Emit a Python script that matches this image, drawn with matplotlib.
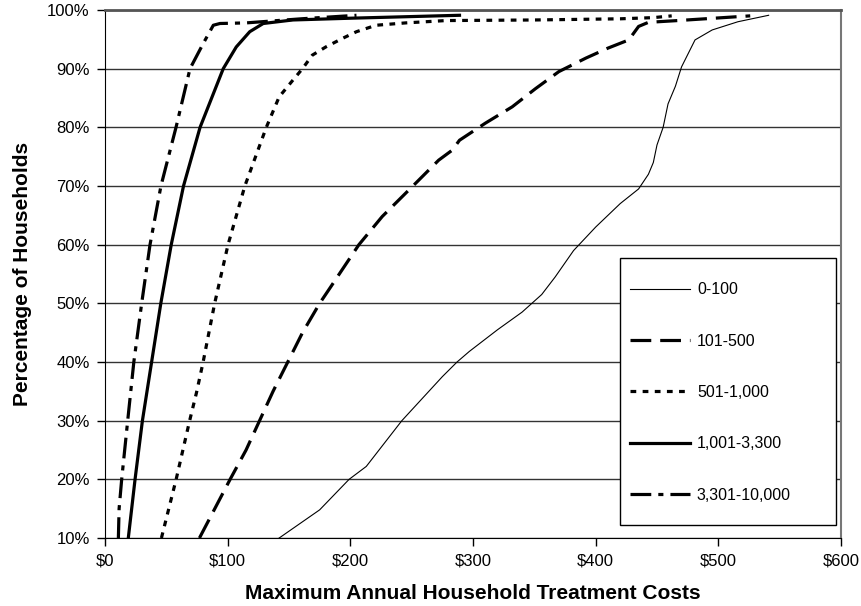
import numpy as np
import matplotlib.pyplot as plt
from matplotlib.patches import Rectangle
from matplotlib.ticker import FuncFormatter

plt.rcParams['font.family'] = ['Liberation Sans', 'DejaVu Sans']

# cost ($) and cumulative percentage of households
x_0_100 = [142, 175, 199, 213, 242, 275, 287, 297, 320, 340, 356, 367, 382, 400,
           420, 435, 443, 447, 450, 455, 459, 465, 470, 481, 495, 516, 541]
y_0_100 = [10, 14.8, 20, 22.2, 30, 37.5, 40, 41.8, 45.5, 48.5, 51.5, 54.5, 59, 63,
           67, 69.5, 72, 74, 77, 80, 84, 87, 90.3, 94.9, 96.6, 98, 99.1]

x_101_500 = [77, 89, 102, 115, 126, 137, 149, 161, 175, 184, 191, 207, 226, 251,
             272, 283, 289, 310, 332, 351, 370, 392, 410, 427, 435, 443, 467, 526]
y_101_500 = [10, 14.8, 20, 25, 30, 35, 40, 45, 50, 52.8, 55, 60, 64.8, 70,
             74.4, 76.1, 77.8, 80.7, 83.5, 86.6, 89.5, 91.8, 93.5, 94.9, 97.2, 97.9, 98.2, 99]

x_501_1000 = [46, 52, 58, 63.5, 69, 74.5, 80, 89.4, 100.3, 114, 131.5, 142, 153, 161,
              169, 180, 194, 205, 221, 245, 278, 350, 420, 447, 462]
y_501_1000 = [10, 15, 20, 25, 30, 34.7, 40, 50, 60, 70, 80, 85.2, 88, 90,
              92.3, 93.7, 95.2, 96.3, 97.4, 97.8, 98.2, 98.3, 98.5, 98.7, 99.0]

x_1001_3300 = [19, 24.5, 30.5, 38, 45.5, 54, 64, 77.5, 96.4, 107, 118, 129, 153, 200, 289]
y_1001_3300 = [10, 20, 30, 40, 50, 60, 70, 80, 90, 93.7, 96.3, 97.7, 98.3, 98.6, 99.1]

x_3301_10000 = [10.9, 11.5, 13.6, 18.5, 23.5, 29.9, 36.7, 45.6, 57.9, 69.3, 80.1, 88.3, 93.7,
                115, 160, 205]
y_3301_10000 = [10, 15, 20, 30, 40, 50, 60, 70, 80, 90, 94.3, 97.4, 97.7,
                97.8, 98.5, 99.1]

W, H = 861, 606
fig = plt.figure(figsize=(W / 100, H / 100), dpi=100)
ax = fig.add_axes([105 / W, 68 / H, 736 / W, 528 / H])

ax.plot(x_0_100, y_0_100, color='black', lw=0.8, label='0-100')
ax.plot(x_101_500, y_101_500, color='black', lw=2.3, dashes=(6.5, 2.8), label='101-500')
ax.plot(x_501_1000, y_501_1000, color='black', lw=2.3, dashes=(1.8, 2.0), label='501-1,000')
ax.plot(x_1001_3300, y_1001_3300, color='black', lw=2.3, label='1,001-3,300')
ax.plot(x_3301_10000, y_3301_10000, color='black', lw=2.3, dashes=(6.5, 2.2, 1.6, 2.2),
        label='3,301-10,000')

ax.set_xlim(0, 600)
ax.set_ylim(10, 100)
ax.set_xticks(np.arange(0, 601, 100))
ax.set_yticks(np.arange(10, 101, 10))
ax.xaxis.set_major_formatter(FuncFormatter(lambda v, p: '$%d' % v))
ax.yaxis.set_major_formatter(FuncFormatter(lambda v, p: '%d%%' % v))
ax.tick_params(direction='out', length=6, width=1, labelsize=12, color='black', pad=5)
ax.grid(axis='y', color='#333333', lw=1)
ax.set_axisbelow(True)

ax.spines['left'].set_color('black')
ax.spines['bottom'].set_color('black')
ax.spines['top'].set_color('#555555')
ax.spines['top'].set_linewidth(2)
ax.spines['right'].set_color('#777777')
ax.spines['right'].set_linewidth(1.5)

ax.set_xlabel('Maximum Annual Household Treatment Costs', fontsize=15, fontweight='bold',
              labelpad=11)
ax.set_ylabel('Percentage of Households', fontsize=15, fontweight='bold', labelpad=11)

# legend box drawn by hand, entries placed inside it
box = Rectangle((620 / W, (H - 525) / H), 216 / W, 267 / H, transform=fig.transFigure,
                facecolor='white', edgecolor='black', lw=1, zorder=4, clip_on=False)
ax.add_patch(box)
leg = ax.legend(loc='upper left', bbox_to_anchor=(630 / W, (H - 282.5) / H),
                bbox_transform=fig.transFigure, frameon=False, fontsize=11.5,
                handlelength=3.75, handletextpad=0.44, borderpad=0, borderaxespad=0,
                labelspacing=2.27)
leg.set_zorder(6)

fig.savefig('out.png', dpi=100)
